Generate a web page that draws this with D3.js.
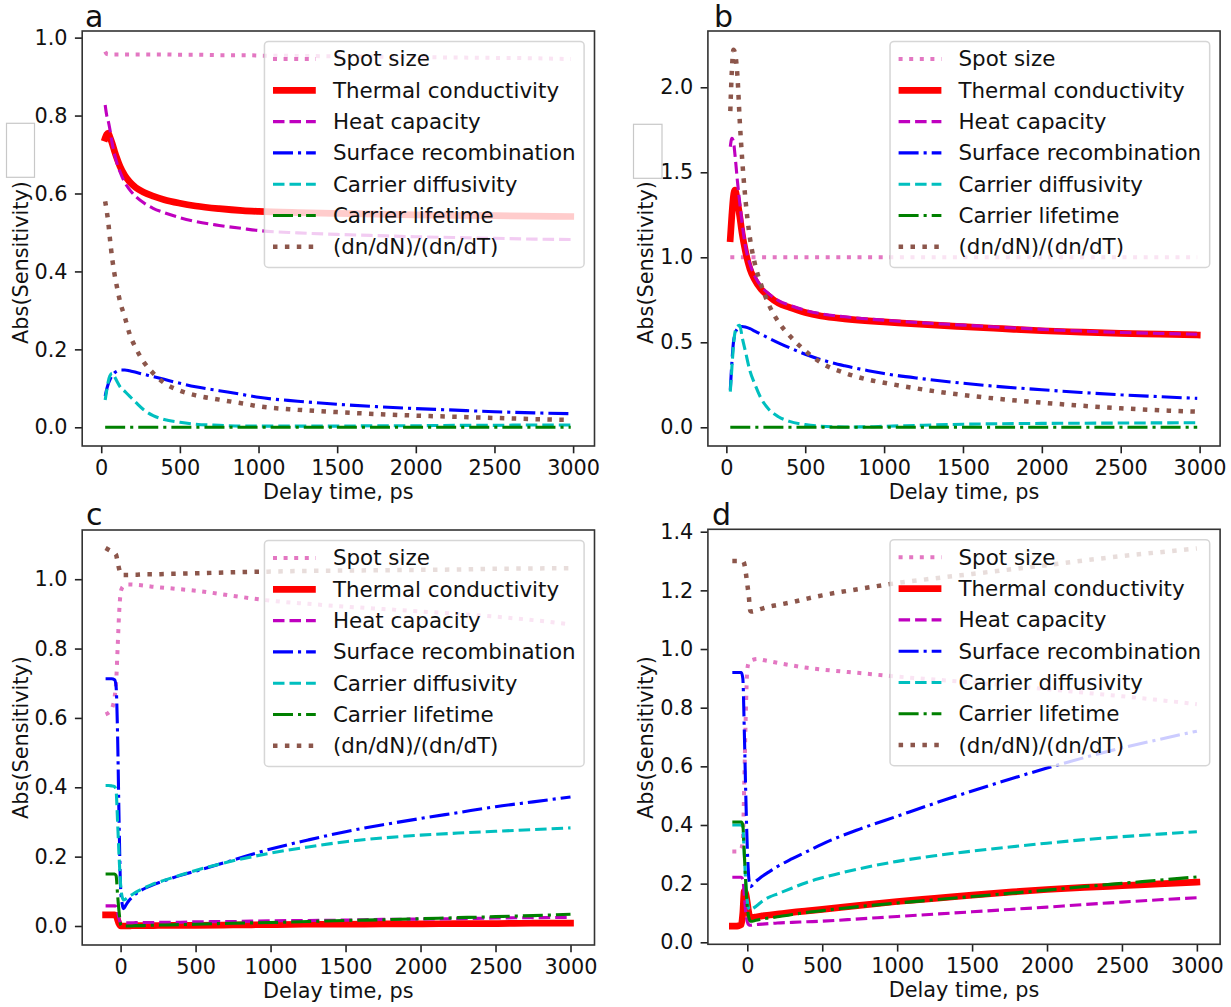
<!DOCTYPE html>
<html><head><meta charset="utf-8">
<script src="https://cdn.jsdelivr.net/npm/d3@7"></script>
<style>
body{margin:0;background:#fff}
svg{display:block}
text{font-family:"DejaVu Sans",sans-serif}
</style>
</head><body>
<svg id="chart" width="1231" height="1007"></svg>
<script>
// ---------------- data ----------------
const seriesNames = ["Spot size","Thermal conductivity","Heat capacity","Surface recombination","Carrier diffusivity","Carrier lifetime","(dn/dN)/(dn/dT)"];
const xTickValues = [0,500,1000,1500,2000,2500,3000];
const xLabel = "Delay time, ps";
const yLabel = "Abs(Sensitivity)";
const panelLetters = ["a","b","c","d"];

const tAB = [25,35,45,55,70,85,100,120,150,180,220,270,330,400,500,600,750,900,1000,1250,1500,1750,2000,2250,2500,2750,2985];
const tCD = [-100,-80,-60,-40,-30,-20,-10,0,10,20,35,50,75,100,150,200,300,400,500,750,1000,1250,1500,1750,2000,2250,2500,2750,3000];

// panel a
const aSpot    = [0.964,0.958,0.957,0.957,0.957,0.957,0.957,0.957,0.957,0.957,0.957,0.957,0.957,0.957,0.956,0.956,0.955,0.955,0.954,0.953,0.952,0.951,0.950,0.949,0.948,0.947,0.945];
const aThermal = [0.742,0.752,0.755,0.745,0.728,0.708,0.690,0.669,0.646,0.630,0.615,0.603,0.593,0.584,0.575,0.568,0.561,0.556,0.554,0.551,0.549,0.547,0.545,0.544,0.543,0.542,0.541];
const aHeat    = [0.827,0.800,0.785,0.765,0.728,0.700,0.678,0.655,0.628,0.610,0.592,0.576,0.562,0.551,0.538,0.528,0.518,0.510,0.505,0.499,0.495,0.492,0.489,0.487,0.485,0.483,0.482];
const aSurface = [0.080,0.098,0.112,0.122,0.133,0.140,0.144,0.147,0.147,0.145,0.141,0.136,0.130,0.123,0.113,0.104,0.094,0.084,0.077,0.067,0.059,0.053,0.048,0.044,0.040,0.037,0.035];
const aDiff    = [0.070,0.095,0.118,0.132,0.139,0.130,0.118,0.104,0.092,0.080,0.064,0.045,0.030,0.020,0.013,0.008,0.005,0.003,0.003,0.003,0.003,0.004,0.004,0.005,0.005,0.006,0.006];
const aLife    = [0,0,0,0,0,0,0,0,0,0,0,0,0,0,0,0,0,0,0,0,0,0,0,0,0,0,0];
const aDn      = [0.580,0.555,0.525,0.485,0.432,0.392,0.360,0.322,0.283,0.240,0.203,0.168,0.139,0.114,0.094,0.082,0.071,0.061,0.054,0.045,0.039,0.034,0.030,0.027,0.024,0.021,0.019];

// panel b
const bSpot    = [1,1,1,1,1,1,1,1,1,1,1,1,1,1,1,1,1,1,1,1,1,1,1,1,1,1,1];
const bThermal = [1.110,1.250,1.360,1.395,1.330,1.240,1.140,1.040,0.930,0.868,0.812,0.770,0.730,0.705,0.675,0.655,0.638,0.626,0.620,0.605,0.592,0.580,0.568,0.560,0.553,0.548,0.543];
const bHeat    = [1.650,1.700,1.680,1.600,1.450,1.320,1.200,1.070,0.960,0.890,0.830,0.785,0.745,0.718,0.688,0.668,0.650,0.637,0.630,0.614,0.601,0.588,0.576,0.566,0.558,0.552,0.547];
const bSurface = [0.220,0.380,0.500,0.550,0.580,0.590,0.593,0.590,0.580,0.566,0.547,0.524,0.497,0.468,0.430,0.398,0.362,0.333,0.316,0.285,0.259,0.238,0.221,0.205,0.191,0.180,0.170];
const bDiff    = [0.210,0.350,0.480,0.560,0.595,0.600,0.530,0.450,0.330,0.255,0.170,0.105,0.062,0.035,0.016,0.006,0.002,0.003,0.006,0.012,0.018,0.021,0.023,0.024,0.025,0.026,0.027];
const bLife    = [0,0,0,0,0,0,0,0,0,0,0,0,0,0,0,0,0,0,0,0,0,0,0,0,0,0,0];
const bDn      = [1.860,2.100,2.220,2.200,2.070,1.800,1.580,1.350,1.110,0.965,0.840,0.720,0.620,0.540,0.450,0.380,0.320,0.280,0.262,0.222,0.190,0.165,0.145,0.127,0.112,0.100,0.092];

// panel c
const cSpot    = [0.610,0.615,0.625,0.660,0.700,0.800,0.900,0.960,0.975,0.980,0.983,0.985,0.985,0.984,0.982,0.979,0.975,0.971,0.967,0.952,0.938,0.929,0.921,0.914,0.907,0.900,0.892,0.882,0.870];
const cThermal = [0.032,0.032,0.032,0.032,0.030,0.018,0.006,0.000,0.000,0.000,0.000,0.000,0.001,0.001,0.001,0.001,0.002,0.002,0.002,0.003,0.004,0.005,0.005,0.006,0.006,0.007,0.007,0.008,0.008];
const cHeat    = [0.058,0.058,0.058,0.058,0.056,0.040,0.020,0.010,0.009,0.009,0.009,0.009,0.009,0.010,0.010,0.010,0.011,0.011,0.012,0.013,0.015,0.016,0.017,0.019,0.020,0.021,0.023,0.024,0.025];
const cSurface = [0.713,0.713,0.713,0.710,0.690,0.550,0.300,0.110,0.065,0.050,0.060,0.070,0.082,0.092,0.106,0.116,0.132,0.146,0.158,0.190,0.222,0.248,0.272,0.292,0.310,0.327,0.344,0.358,0.372];
const cDiff    = [0.405,0.405,0.404,0.402,0.390,0.300,0.200,0.120,0.085,0.075,0.078,0.083,0.090,0.097,0.108,0.118,0.133,0.147,0.160,0.188,0.210,0.228,0.243,0.254,0.262,0.268,0.273,0.278,0.283];
const cLife    = [0.150,0.150,0.150,0.150,0.145,0.090,0.040,0.005,0.000,0.000,0.000,0.000,0.000,0.001,0.001,0.002,0.003,0.004,0.005,0.008,0.010,0.013,0.016,0.018,0.021,0.024,0.027,0.030,0.034];
const cDn      = [1.090,1.085,1.080,1.075,1.070,1.050,1.030,1.015,1.012,1.012,1.012,1.012,1.013,1.013,1.014,1.014,1.015,1.016,1.017,1.020,1.022,1.024,1.025,1.026,1.027,1.028,1.030,1.031,1.032];

// panel d
const dSpot    = [0.310,0.310,0.310,0.320,0.350,0.550,0.780,0.930,0.955,0.960,0.963,0.965,0.966,0.963,0.958,0.953,0.944,0.936,0.930,0.918,0.906,0.896,0.886,0.875,0.863,0.851,0.839,0.826,0.812];
const dThermal = [0.055,0.055,0.056,0.060,0.100,0.175,0.165,0.135,0.100,0.085,0.085,0.086,0.088,0.090,0.093,0.096,0.102,0.107,0.112,0.126,0.139,0.150,0.161,0.171,0.180,0.187,0.193,0.199,0.205];
const dHeat    = [0.222,0.222,0.222,0.222,0.215,0.160,0.100,0.070,0.060,0.058,0.059,0.060,0.061,0.062,0.064,0.066,0.068,0.070,0.072,0.080,0.088,0.096,0.104,0.112,0.120,0.129,0.137,0.145,0.152];
const dSurface = [0.920,0.920,0.920,0.920,0.900,0.720,0.500,0.320,0.220,0.190,0.195,0.205,0.215,0.225,0.242,0.258,0.285,0.310,0.335,0.386,0.430,0.474,0.516,0.556,0.594,0.630,0.663,0.692,0.720];
const dDiff    = [0.400,0.400,0.400,0.400,0.390,0.300,0.200,0.140,0.115,0.110,0.115,0.120,0.130,0.140,0.155,0.165,0.185,0.205,0.220,0.251,0.276,0.295,0.311,0.325,0.338,0.350,0.360,0.369,0.377];
const dLife    = [0.410,0.410,0.410,0.410,0.400,0.300,0.200,0.120,0.085,0.072,0.072,0.074,0.077,0.080,0.083,0.087,0.095,0.102,0.108,0.122,0.134,0.145,0.156,0.167,0.178,0.190,0.201,0.212,0.223];
const dDn      = [1.300,1.300,1.300,1.300,1.300,1.290,1.260,1.220,1.180,1.130,1.128,1.130,1.134,1.138,1.145,1.150,1.160,1.172,1.183,1.205,1.225,1.241,1.256,1.271,1.286,1.302,1.317,1.330,1.343];

const yTicksA = [0.0,0.2,0.4,0.6,0.8,1.0];
const yTicksB = [0.0,0.5,1.0,1.5,2.0];
const yTicksC = [0.0,0.2,0.4,0.6,0.8,1.0];
const yTicksD = [0.0,0.2,0.4,0.6,0.8,1.0,1.2,1.4];

// ---------------- styles / layout ----------------
const FS = 20.8;      // tick / axis label font
const LFS = 21.4;     // legend font
const lineStyles = [
  {color:"#e377c2", width:4.0, dash:"4 6.6"},
  {color:"#ff0000", width:6.7, dash:null, cap:"square"},
  {color:"#bf00bf", width:3.1, dash:"11.5 5"},
  {color:"#0000ff", width:3.1, dash:"20 5 3.1 5"},
  {color:"#00bfbf", width:3.1, dash:"11.5 5"},
  {color:"#008000", width:3.1, dash:"20 5 3.1 5"},
  {color:"#8c564b", width:4.5, dash:"4.5 7.4"}
];

const panels = [
  {letter:panelLetters[0], t:tAB, series:[aSpot,aThermal,aHeat,aSurface,aDiff,aLife,aDn], yTicks:yTicksA,
   box:{l:82.2,r:594.5,t:31,b:446}, xDom:[-121,3136], yDom:[-0.048,1.017],
   letterPos:[85,26.7], ylabelPos:[21,262.5], whiteBox:[6.5,123.3,28,54]},
  {letter:panelLetters[1], t:tAB, series:[bSpot,bThermal,bHeat,bSurface,bDiff,bLife,bDn], yTicks:yTicksB,
   box:{l:707.9,r:1220.1,t:31,b:446}, xDom:[-117,3130], yDom:[-0.110,2.331],
   letterPos:[714,26.7], ylabelPos:[645.5,262.5], whiteBox:[633.5,124.3,28.5,54]},
  {letter:panelLetters[2], t:tCD, series:[cSpot,cThermal,cHeat,cSurface,cDiff,cLife,cDn], yTicks:yTicksC,
   box:{l:82.2,r:594.5,t:530,b:945}, xDom:[-256,3160], yDom:[-0.0548,1.1419],
   letterPos:[86,525], ylabelPos:[21,737.5], whiteBox:null},
  {letter:panelLetters[3], t:tCD, series:[dSpot,dThermal,dHeat,dSurface,dDiff,dLife,dDn], yTicks:yTicksD,
   box:{l:707.9,r:1220.1,t:529.3,b:944.3}, xDom:[-263,3155], yDom:[-0.0068,1.4082],
   letterPos:[712,525], ylabelPos:[645.5,737.5], whiteBox:null}
];

const svg = d3.select("#chart");
svg.append("rect").attr("width",1231).attr("height",1007).attr("fill","#fff");

panels.forEach((p,pi)=>{
  const g = svg.append("g");
  const x = d3.scaleLinear().domain(p.xDom).range([p.box.l,p.box.r]);
  const y = d3.scaleLinear().domain(p.yDom).range([p.box.b,p.box.t]);
  const clipId = "clip"+pi;
  svg.append("clipPath").attr("id",clipId).append("rect")
    .attr("x",p.box.l).attr("y",p.box.t).attr("width",p.box.r-p.box.l).attr("height",p.box.b-p.box.t);

  const line = d3.line().x(d=>x(d[0])).y(d=>y(d[1])).curve(d3.curveMonotoneX);
  const lg = g.append("g").attr("clip-path",`url(#${clipId})`);
  p.series.forEach((vals,si)=>{
    const st = lineStyles[si];
    const pts = p.t.map((tt,i)=>[tt,vals[i]]);
    lg.append("path").attr("d",line(pts)).attr("fill","none")
      .attr("stroke",st.color).attr("stroke-width",st.width)
      .attr("stroke-dasharray",st.dash)
      .attr("stroke-linecap",st.cap||"butt").attr("stroke-linejoin","round");
  });

  // axes
  const xa = g.append("g").attr("transform",`translate(0,${p.box.b})`)
    .call(d3.axisBottom(x).tickValues(xTickValues).tickFormat(d3.format("d")).tickSize(7.3).tickPadding(6.5));
  const ya = g.append("g").attr("transform",`translate(${p.box.l},0)`)
    .call(d3.axisLeft(y).tickValues(p.yTicks).tickFormat(d3.format(".1f")).tickSize(7.3).tickPadding(7.3));
  [xa,ya].forEach(a=>{
    a.select(".domain").remove();
    a.selectAll("line").attr("stroke","#222").attr("stroke-width",1.6);
    a.selectAll("text").attr("font-size",FS).attr("font-family","DejaVu Sans").attr("fill","#111");
  });

  // frame
  g.append("rect").attr("x",p.box.l).attr("y",p.box.t)
    .attr("width",p.box.r-p.box.l).attr("height",p.box.b-p.box.t)
    .attr("fill","none").attr("stroke","#333").attr("stroke-width",1.6);

  // axis labels
  g.append("text").attr("x",(p.box.l+p.box.r)/2).attr("y",p.box.b+53)
    .attr("text-anchor","middle").attr("font-size",FS).attr("fill","#111").text(xLabel);
  g.append("text").attr("transform",`translate(${p.ylabelPos[0]},${p.ylabelPos[1]}) rotate(-90)`)
    .attr("text-anchor","middle").attr("dy","0.35em").attr("font-size",FS).attr("fill","#111").text(yLabel);

  if(p.whiteBox){
    g.append("rect").attr("x",p.whiteBox[0]).attr("y",p.whiteBox[1])
      .attr("width",p.whiteBox[2]).attr("height",p.whiteBox[3])
      .attr("fill","#fff").attr("stroke","#c8c8c8").attr("stroke-width",1.2);
  }

  // panel letter
  g.append("text").attr("x",p.letterPos[0]).attr("y",p.letterPos[1])
    .attr("font-family","Liberation Sans, Arial, sans-serif").attr("font-size",30).attr("fill","#111").text(p.letter);

  // legend
  const pad = 0.4*LFS, hl = 2*LFS, htp = 0.8*LFS, pitch = 31.3, firstOff = 17.6;
  const leg = g.append("g");
  const legBox = leg.append("rect");
  const texts = [];
  seriesNames.forEach((nm,i)=>{
    texts.push(leg.append("text").attr("font-size",LFS).attr("fill","#111").attr("dy","0.35em").text(nm));
  });
  const maxW = d3.max(texts,t=>t.node().getComputedTextLength());
  const lw = pad*2 + hl + htp + maxW;
  const lh = 226;
  const lx = p.box.r - 10.4 - lw, ly = p.box.t + 10.4;
  legBox.attr("x",lx).attr("y",ly).attr("width",lw).attr("height",lh).attr("rx",4)
    .attr("fill","#fff").attr("fill-opacity",0.8).attr("stroke","#cccccc").attr("stroke-opacity",0.8).attr("stroke-width",1.5);
  seriesNames.forEach((nm,i)=>{
    const cy = ly + firstOff + i*pitch;
    const st = lineStyles[i];
    leg.append("line").attr("x1",lx+pad).attr("x2",lx+pad+hl).attr("y1",cy).attr("y2",cy)
      .attr("stroke",st.color).attr("stroke-width",st.width).attr("stroke-dasharray",st.dash)
      .attr("stroke-linecap","butt");
    texts[i].attr("x",lx+pad+hl+htp).attr("y",cy);
    texts[i].raise();
  });
});
</script>
</body></html>
